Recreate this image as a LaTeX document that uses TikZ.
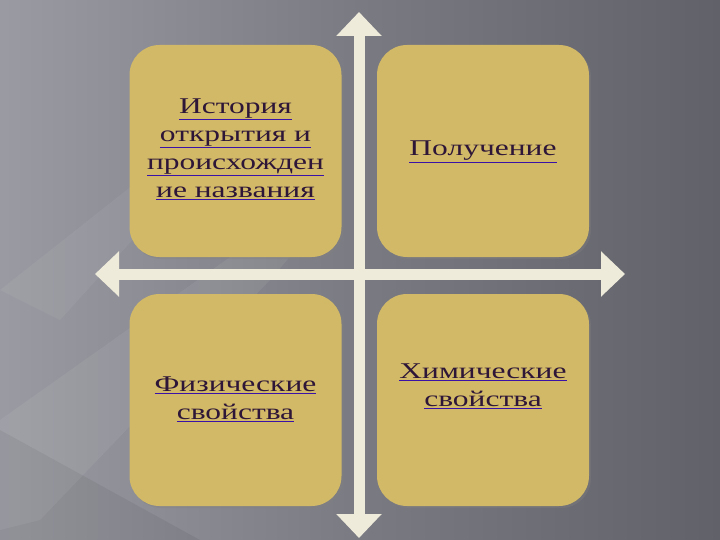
\documentclass[tikz,border=0pt]{standalone}
\usepackage{fontspec}
\setmainfont[FakeStretch=1.4]{Liberation Serif}
\usetikzlibrary{arrows.meta,shadows}
\definecolor{boxc}{HTML}{D1B967}
\definecolor{arrc}{HTML}{EFEBDA}
\definecolor{txtc}{HTML}{2E1638}
\definecolor{ulc}{HTML}{3A12A8}
\definecolor{bgA}{HTML}{ABABB3}
\definecolor{bgB}{HTML}{A2A2AA}
\definecolor{bgC}{HTML}{7A7A82}
\definecolor{bgD}{HTML}{5E5E66}
\definecolor{bgE}{HTML}{58585F}
\pgfdeclarehorizontalshading{bgshade}{100bp}{
  color(0bp)=(bgA);
  color(19bp)=(bgB);
  color(50bp)=(bgC);
  color(78bp)=(bgD);
  color(100bp)=(bgE)}
\newcommand\myul[1]{\textcolor{ulc}{\underline{\textcolor{txtc}{#1}}}}
\tikzset{
  quad/.style={fill=boxc, rounded corners=30pt, minimum width=212pt, minimum height=212pt,
    drop shadow={shadow xshift=2pt, shadow yshift=-2pt, opacity=0.35}},
  lbl/.style={font=\fontsize{22.5}{28}\selectfont, align=center, text=txtc},
  cross/.style={draw=arrc, line width=11pt, {Triangle[width=44pt,length=24pt]}-{Triangle[width=44pt,length=24pt]}}
}
\begin{document}
\begin{tikzpicture}[x=1pt,y=-1pt]
\useasboundingbox (0,0) rectangle (720,540);
\shade[shading=bgshade] (0,0) rectangle (720,540);
\fill[black, opacity=0.06] (0,430) -- (200,540) -- (0,540) -- cycle;
\fill[white, opacity=0.06] (0,420) -- (240,250) -- (330,210) -- (270,280) -- (40,520) -- (0,530) -- cycle;
\fill[white, opacity=0.05] (0,290) -- (190,140) -- (250,110) -- (60,320) -- cycle;
% arrows
\coordinate (T) at (359,12);
\coordinate (B) at (359,538);
\coordinate (L) at (95,274);
\coordinate (R) at (625,274);
\draw[cross] (L) -- (R);
\draw[cross] (T) -- (B);
% boxes
\node[quad] (q1) at (235.5,151) {};
\node[quad] (q2) at (483,151) {};
\node[quad] (q3) at (235.5,400) {};
\node[quad] (q4) at (483,400) {};
\node[lbl] (t1) at (235.5,149) {\myul{История}\\\myul{открытия и}\\\myul{происхожден}\\\myul{ие названия}};
\node[lbl] (t2) at (483,152) {\myul{Получение}};
\node[lbl] (t3) at (235.5,399) {\myul{Физические}\\\myul{свойства}};
\node[lbl] (t4) at (483,386) {\myul{Химические}\\\myul{свойства}};
\end{tikzpicture}
\end{document}
